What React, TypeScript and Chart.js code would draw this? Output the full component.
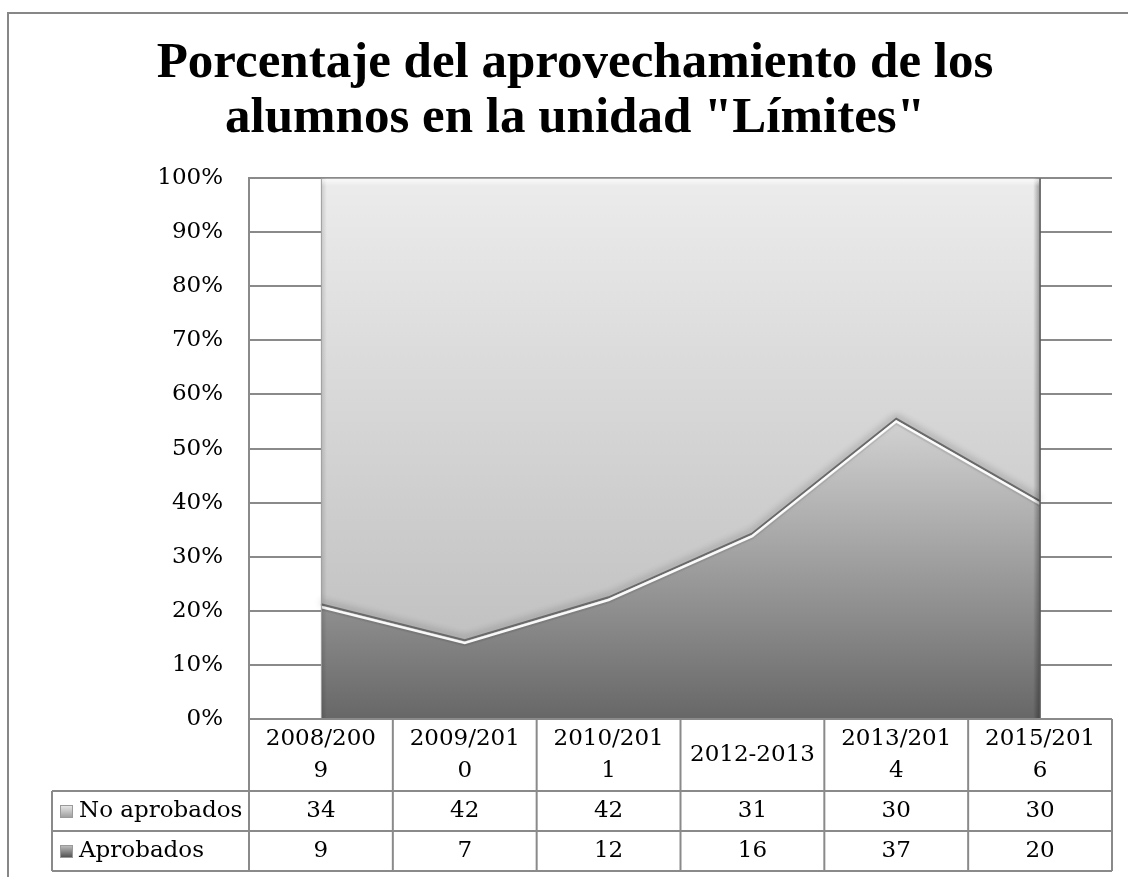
import React, { useEffect, useRef } from 'react';
import { Chart, registerables } from 'chart.js';

Chart.register(...registerables);

const titleLines = ['Porcentaje del aprovechamiento de los', 'alumnos en la unidad "Límites"'];
const categories = [['2008/200', '9'], ['2009/201', '0'], ['2010/201', '1'], ['2012-2013'], ['2013/201', '4'], ['2015/201', '6']];
const noAprobados = [34, 42, 42, 31, 30, 30];
const aprobados = [9, 7, 12, 16, 37, 20];
const seriesNames = ['No aprobados', 'Aprobados'];
const yMin = 0;
const yMax = 100;
const yStep = 10;

const totals = aprobados.map((v, i) => v + noAprobados[i]);
const aprobPct = aprobados.map((v, i) => (v / totals[i]) * 100);
const noPct = noAprobados.map((v, i) => (v / totals[i]) * 100);

const SMALL_FAMILY = '"DejaVu Serif", serif';
const SMALL_SIZE = 23;
const SMALL_FONT = `${SMALL_SIZE}px ${SMALL_FAMILY}`;
const GRID = '#8a8a8a';

const framePlugin = {
  id: 'frame',
  beforeDraw(chart: any) {
    const { ctx, width, height } = chart;
    ctx.save();
    ctx.fillStyle = '#ffffff';
    ctx.fillRect(0, 0, width, height);
    ctx.strokeStyle = '#878787';
    ctx.lineWidth = 2;
    ctx.beginPath();
    ctx.moveTo(8, height);
    ctx.lineTo(8, 13);
    ctx.lineTo(width, 13);
    ctx.stroke();
    ctx.restore();
  },
};

const bevelPlugin = {
  id: 'bevel',
  afterDatasetsDraw(chart: any) {
    const { ctx, chartArea } = chart;
    const meta = chart.getDatasetMeta(0);
    const pts = meta.data;
    if (!pts || !pts.length) return;
    const firstX = pts[0].x;
    const lastX = pts[pts.length - 1].x;
    ctx.save();
    ctx.beginPath();
    ctx.rect(chartArea.left, chartArea.top, chartArea.right - chartArea.left, chartArea.bottom - chartArea.top);
    ctx.clip();
    const path = (dy: number) => {
      ctx.beginPath();
      pts.forEach((p: any, i: number) => (i ? ctx.lineTo(p.x, p.y + dy) : ctx.moveTo(p.x, p.y + dy)));
    };
    path(-1.5);
    ctx.shadowColor = 'rgba(0,0,0,0.45)';
    ctx.shadowBlur = 7;
    ctx.shadowOffsetY = -2;
    ctx.strokeStyle = '#6a6a6a';
    ctx.lineWidth = 2;
    ctx.stroke();
    ctx.shadowColor = 'transparent';
    ctx.shadowBlur = 0;
    ctx.shadowOffsetY = 0;
    path(1.2);
    ctx.strokeStyle = 'rgba(255,255,255,0.95)';
    ctx.lineWidth = 2.5;
    ctx.stroke();
    path(3.5);
    ctx.strokeStyle = 'rgba(0,0,0,0.08)';
    ctx.lineWidth = 2;
    ctx.stroke();
    const g = ctx.createLinearGradient(lastX - 7, 0, lastX, 0);
    g.addColorStop(0, 'rgba(0,0,0,0)');
    g.addColorStop(1, 'rgba(0,0,0,0.35)');
    ctx.fillStyle = g;
    ctx.fillRect(lastX - 7, chartArea.top, 7, chartArea.bottom - chartArea.top);
    ctx.strokeStyle = '#5a5a5a';
    ctx.lineWidth = 1.5;
    ctx.beginPath();
    ctx.moveTo(lastX, chartArea.top);
    ctx.lineTo(lastX, chartArea.bottom);
    ctx.stroke();
    const g2 = ctx.createLinearGradient(firstX, 0, firstX + 6, 0);
    g2.addColorStop(0, 'rgba(0,0,0,0.15)');
    g2.addColorStop(1, 'rgba(0,0,0,0)');
    ctx.fillStyle = g2;
    ctx.fillRect(firstX, chartArea.top, 6, chartArea.bottom - chartArea.top);
    ctx.strokeStyle = '#a0a0a0';
    ctx.lineWidth = 1;
    ctx.beginPath();
    ctx.moveTo(firstX + 0.5, chartArea.top);
    ctx.lineTo(firstX + 0.5, chartArea.bottom);
    ctx.stroke();
    const g3 = ctx.createLinearGradient(0, chartArea.top, 0, chartArea.top + 8);
    g3.addColorStop(0, 'rgba(255,255,255,0.8)');
    g3.addColorStop(1, 'rgba(255,255,255,0)');
    ctx.fillStyle = g3;
    ctx.fillRect(firstX + 1, chartArea.top + 1, lastX - firstX - 2, 8);
    ctx.restore();
  },
};

const tablePlugin = {
  id: 'dataTable',
  afterDraw(chart: any) {
    const { ctx, chartArea } = chart;
    const x = chart.scales.x;
    const n = categories.length;
    const colW = x.getPixelForValue(1) - x.getPixelForValue(0);
    const left = x.getPixelForValue(0) - colW / 2;
    const right = x.getPixelForValue(n - 1) + colW / 2;
    const headerTop = chartArea.bottom;
    const headerBottom = headerTop + 72;
    const rowH = 40;
    const tableBottom = headerBottom + rowH * 2;
    const labelLeft = 52;

    ctx.save();
    ctx.strokeStyle = GRID;
    ctx.lineWidth = 2;
    ctx.beginPath();
    ctx.moveTo(left, headerTop);
    ctx.lineTo(right, headerTop);
    for (let r = 0; r <= 2; r++) {
      const yy = headerBottom + r * rowH;
      ctx.moveTo(labelLeft, yy);
      ctx.lineTo(right, yy);
    }
    for (let k = 0; k <= n; k++) {
      const xx = left + k * colW;
      ctx.moveTo(xx, headerTop);
      ctx.lineTo(xx, tableBottom);
    }
    ctx.moveTo(labelLeft, headerBottom);
    ctx.lineTo(labelLeft, tableBottom);
    ctx.stroke();

    ctx.fillStyle = '#000000';
    ctx.font = SMALL_FONT;
    ctx.textAlign = 'center';
    ctx.textBaseline = 'middle';
    const hc = (headerTop + headerBottom) / 2;
    categories.forEach((lines, i) => {
      const cx = x.getPixelForValue(i);
      lines.forEach((t, j) => {
        ctx.fillText(t, cx, hc + (j - (lines.length - 1) / 2) * 32);
      });
    });

    const rows = [
      { name: seriesNames[0], values: noAprobados, c1: '#ececec', c2: '#9a9a9a' },
      { name: seriesNames[1], values: aprobados, c1: '#c4c4c4', c2: '#4a4a4a' },
    ];
    rows.forEach((row, r) => {
      const cy = headerBottom + r * rowH + rowH / 2;
      row.values.forEach((v, i) => {
        ctx.fillText(String(v), x.getPixelForValue(i), cy);
      });
      const g = ctx.createLinearGradient(0, cy - 6, 0, cy + 7);
      g.addColorStop(0, row.c1);
      g.addColorStop(1, row.c2);
      ctx.fillStyle = g;
      ctx.fillRect(60, cy - 6, 13, 13);
      ctx.strokeStyle = '#9a9a9a';
      ctx.lineWidth = 1;
      ctx.strokeRect(60.5, cy - 5.5, 12, 12);
      ctx.fillStyle = '#000000';
      ctx.textAlign = 'left';
      ctx.fillText(row.name, 79, cy);
      ctx.textAlign = 'center';
    });
    ctx.restore();
  },
};

export default function App() {
  const ref = useRef<HTMLCanvasElement>(null);
  useEffect(() => {
    if (!ref.current) return;
    const chart = new Chart(ref.current, {
      type: 'line',
      data: {
        labels: categories as any,
        datasets: [
          {
            label: seriesNames[1],
            data: aprobPct,
            fill: 'origin',
            borderWidth: 0,
            pointRadius: 0,
            tension: 0,
            backgroundColor: (c: any) => {
              const ch = c.chart;
              const ca = ch.chartArea;
              if (!ca) return '#999';
              const top = ch.scales.y.getPixelForValue(Math.max(...aprobPct));
              const g = ch.ctx.createLinearGradient(0, top, 0, ca.bottom);
              g.addColorStop(0, '#d2d2d2');
              g.addColorStop(1, '#676767');
              return g;
            },
          },
          {
            label: seriesNames[0],
            data: noPct,
            fill: '-1',
            borderWidth: 1,
            borderColor: '#9a9a9a',
            pointRadius: 0,
            tension: 0,
            backgroundColor: (c: any) => {
              const ch = c.chart;
              const ca = ch.chartArea;
              if (!ca) return '#ddd';
              const g = ch.ctx.createLinearGradient(0, ca.top, 0, ca.bottom);
              g.addColorStop(0, '#ececec');
              g.addColorStop(1, '#bababa');
              return g;
            },
          },
        ],
      },
      options: {
        responsive: false,
        animation: false,
        devicePixelRatio: 1,
        layout: { padding: { left: 38, right: 16, top: 0, bottom: 0 } },
        plugins: {
          legend: { display: false },
          tooltip: { enabled: false },
          title: {
            display: true,
            text: titleLines,
            color: '#000000',
            font: { family: '"Liberation Serif", serif', size: 51, weight: 'bold', lineHeight: 1.08 },
            padding: { top: 36, bottom: 32 },
          },
        },
        scales: {
          x: {
            type: 'category',
            offset: true,
            grid: { display: false },
            border: { display: false },
            ticks: { display: false },
            afterFit: (s: any) => {
              s.height = 158;
            },
          },
          y: {
            stacked: true,
            min: yMin,
            max: yMax,
            grid: { color: GRID, lineWidth: 2, drawTicks: false },
            border: { display: true, color: GRID, width: 2 },
            ticks: {
              stepSize: yStep,
              padding: 26,
              color: '#000000',
              font: { family: SMALL_FAMILY, size: SMALL_SIZE },
              callback: (v: any) => v + '%',
            },
            afterFit: (s: any) => {
              s.width = 211;
            },
          },
        },
      },
      plugins: [framePlugin, bevelPlugin, tablePlugin],
    });
    return () => chart.destroy();
  }, []);
  return (
    <div style={{ position: 'fixed', left: 0, top: 0, width: 1128, height: 877, background: '#fff' }}>
      <canvas ref={ref} width={1128} height={877} style={{ display: 'block' }} />
    </div>
  );
}
